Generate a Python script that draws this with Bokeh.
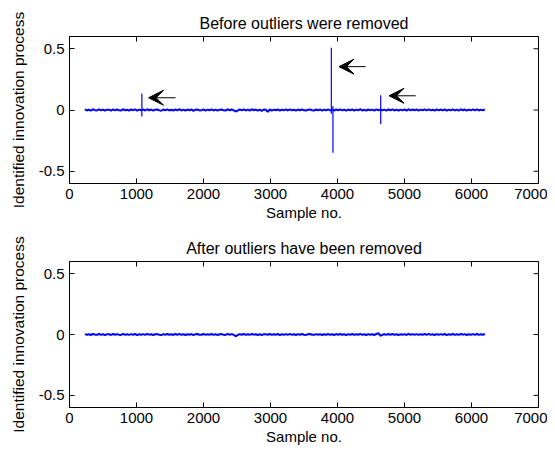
from bokeh.plotting import figure
from bokeh.models import Range1d, FixedTicker, Arrow, VeeHead, Title
from bokeh.layouts import gridplot
from bokeh.embed import file_html
from bokeh.resources import INLINE
import math

# ---------------- data ----------------
sample_start = 230
sample_step = 30
value_unit = 0.0005  # the innovation lists below are in units of 0.0005

# identified innovation, before outlier removal
innov_before = [
    9, -7, 4, -11, 12, -3, -8, 10, -5, 7, -12, 6, 3, -9, 11, -6, 8, -4, -10, 13, -7, 5, -9, 8, -3, 10, -11, 6, -5, 9,
    -8, 12, -4, 7, -10, 5, 9, -6, -12, 8, -5, 11, -7, 4, -9, 10, -6, 14, -8, 5, -11, 7, -4, 9, -13, 6, 10, -7, -5, 12,
    -9, 6, -4, 11, -8, 7, -12, 5, 9, -6, -10, 13, -5, 8, -7, -24, -11, 9, -6, 10, -8, 5, -9, 12, -4, 7, -10, 6, -13, 8,
    5, -30, 11, -9, 6, -4, 10, -12, 7, -5, 9, -8, 12, -6, 4, -10, 8, -7, 11, -5, -9, 6, 10, -4, -8, 8, -6, 9, -11, 7,
    -5, 12, -8, 6, -10, 9, -4, 11, -7, 5, -12, 8, -6, 10, -9, 7, -5, 13, -8, 4, -11, 9, -6, 7, -10, 12, -5, 8, -7, 6,
    -9, 11, -4, 10, -8, 5, -12, 7, -6, 9, -11, 13, -5, 8, -7, 10, -9, 6, -4, 11, -8, 12, -6, 5, -10, 9, -7, 8, -5, 11,
    -12, 7, -6, 10, -8, 5, -9, 12, -4, 8, -11, 6, -7, 9, -5, 10, -8, 7, -6, 11,
]

# outlier spikes in the "before" series
spike_x = [1080, 3908, 3932, 4645]
spike_hi = [0.135, 0.508, 0.03, 0.12]
spike_lo = [-0.054, -0.03, -0.349, -0.114]

# identified innovation, after outlier removal
innov_after = [
    7, -5, 3, -8, 9, -3, -6, 8, -4, 5, -9, 6, 3, -7, 8, -5, 6, -3, -8, 10, -5, 4, -7, 6, -3, 8, -9, 5, -4, 7,
    -6, 9, -3, 5, -8, 4, 7, -5, -9, 6, -4, 8, -5, 3, -7, 8, -5, 10, -6, 4, -8, 5, -3, 7, -9, 5, 8, -5, -4, 9,
    -7, 5, -3, 8, -6, 5, -9, 4, 7, -5, -8, 10, -4, 6, -5, -30, -8, 7, -5, 8, -6, 4, -7, 9, -3, 5, -8, 5, -10, 6,
    4, -5, 8, -7, 5, -3, 8, -9, 5, -4, 7, -6, 9, -5, 3, -8, 6, -5, 8, -4, -7, 5, 8, -3, -6, 6, -5, 7, -8, 5,
    -4, 9, -6, 5, -8, 7, -3, 8, -5, 4, -9, 6, -5, 8, -7, 5, -4, 10, -6, 3, -8, 7, -5, 5, -8, 9, 22, -20, -5, 5,
    -7, 8, -3, 8, -6, 4, -9, 5, -5, 7, -8, 10, -4, 6, -5, 7, -6, 5, -3, 8, -6, 9, -5, 4, -8, 7, -5, 6, -4, 8,
    -9, 5, -5, 8, -6, 4, -7, 9, -3, 6, -8, 5, -5, 7, -4, 8, -6, 5, -5, 8,
]

# arrows pointing at the outliers
arrow_x_head = [1180, 4022, 4769]
arrow_x_tail = [1583, 4420, 5167]
arrow_y = [0.10, 0.354, 0.116]

x_ticks = [0, 1000, 2000, 3000, 4000, 5000, 6000, 7000]
y_ticks = [-0.5, 0, 0.5]
y_tick_labels = {-0.5: "-0.5", 0: "0", 0.5: "0.5"}
x_min, x_max = 0, 7000
y_min, y_max = -0.6, 0.6

FONT = "Liberation Sans"
FS = "15px"


def make_fig(title, height, top_border, bottom_border):
    p = figure(width=547, height=height, output_backend="svg", toolbar_location=None,
               x_range=Range1d(x_min, x_max), y_range=Range1d(y_min, y_max),
               min_border_left=69, min_border_right=9, min_border_top=top_border,
               min_border_bottom=bottom_border)
    p.title = Title(text=title, align="center", text_font=FONT, text_font_size="16px",
                    text_font_style="normal", text_color="black", standoff=10)
    p.xgrid.visible = False
    p.ygrid.visible = False
    p.outline_line_color = "black"
    p.outline_line_alpha = 1
    p.background_fill_color = "white"
    p.border_fill_color = "white"

    for ax in (p.xaxis[0], p.yaxis[0]):
        ax.major_tick_in = 5
        ax.major_tick_out = 0
        ax.minor_tick_line_color = None
        ax.axis_line_color = "black"
        ax.major_tick_line_color = "black"
        ax.major_label_text_font = FONT
        ax.major_label_text_font_size = FS
        ax.major_label_text_color = "black"
        ax.axis_label_text_font = FONT
        ax.axis_label_text_font_size = FS
        ax.axis_label_text_font_style = "normal"
        ax.axis_label_text_color = "black"

    p.yaxis.axis_label_text_font_size = "15.5px"
    p.xaxis.ticker = FixedTicker(ticks=x_ticks)
    p.yaxis.ticker = FixedTicker(ticks=y_ticks)
    p.yaxis.major_label_overrides = y_tick_labels
    p.xaxis.axis_label = "Sample no."
    p.yaxis.axis_label = "Identified innovation process"
    p.xaxis.major_label_standoff = 5
    p.yaxis.major_label_standoff = 5
    p.xaxis.axis_label_standoff = 2
    p.yaxis.axis_label_standoff = 9

    # mirrored ticks on the top and right edges of the box (half of each dash is clipped)
    p.scatter(x=x_ticks, y=[y_max] * len(x_ticks), marker="dash", angle=math.pi / 2,
              size=10, line_color="black", line_width=1)
    p.scatter(x=[x_max] * len(y_ticks), y=y_ticks, marker="dash",
              size=10, line_color="black", line_width=1)
    return p


xs = [sample_start + sample_step * i for i in range(len(innov_before))]

p1 = make_fig("Before outliers were removed", 232, 36, 49)
p1.line(xs, [v * value_unit for v in innov_before], line_color="blue", line_width=2)
p1.segment(x0=spike_x, y0=spike_lo, x1=spike_x, y1=spike_hi, line_color="blue", line_width=1.2)
for xh, xt, ya in zip(arrow_x_head, arrow_x_tail, arrow_y):
    p1.add_layout(Arrow(x_start=xt, y_start=ya, x_end=xh, y_end=ya, line_color="black", line_width=1,
                        end=VeeHead(size=15, fill_color="black", line_color="black")))

xs2 = [sample_start + sample_step * i for i in range(len(innov_after))]
p2 = make_fig("After outliers have been removed", 221, 28, 46)
p2.line(xs2, [v * value_unit for v in innov_after], line_color="blue", line_width=2)

layout = gridplot([[p1], [p2]], toolbar_location=None)
open("out.html", "w").write(file_html(layout, INLINE))
